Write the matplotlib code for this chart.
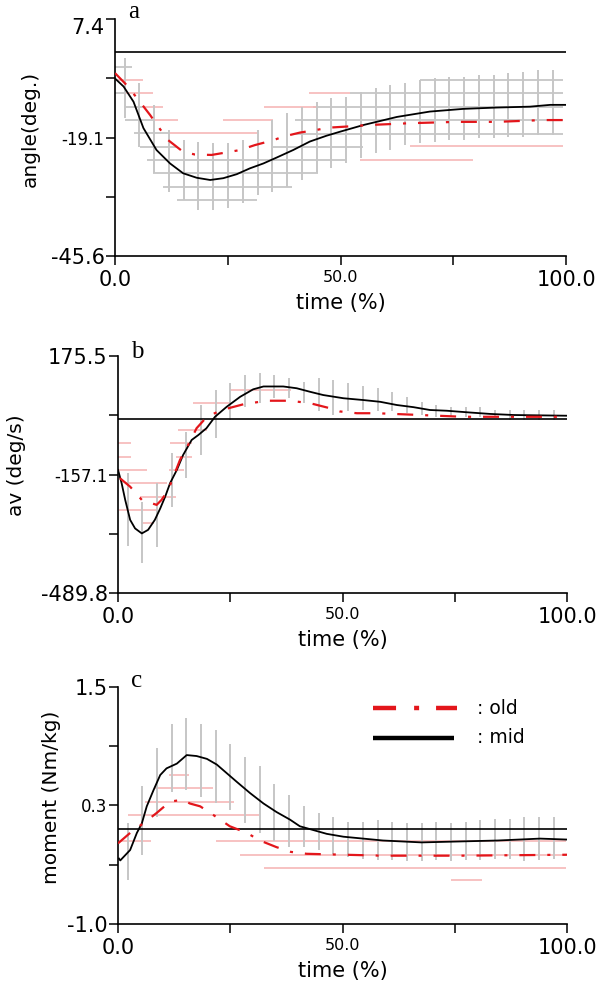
import matplotlib
matplotlib.use("Agg")
import matplotlib.pyplot as plt
from matplotlib.transforms import ScaledTranslation

plt.rcParams['font.family'] = ['DejaVu Sans']
plt.rcParams['lines.scale_dashes'] = False

RED = '#e3161b'
GREY = '#c6c6c6'
PINK = '#f6b8b8'
DASH = [11.5, 8.6, 2.2, 8.6]

# time (%) of the SD bars of the mid group
bar_x = [2.2, 5.4, 8.7, 12.0, 15.2, 18.5, 21.8, 25.0, 28.3, 31.6,
         34.8, 38.1, 41.4, 44.7, 47.9, 51.2, 54.5, 57.8, 61.0, 64.3,
         67.6, 70.9, 74.1, 77.4, 80.7, 84.0, 87.2, 90.5, 93.8, 97.1]
x_ticks = [0, 25, 50, 75, 100]
x_ticklabels = ['0.0', '', '50.0', '', '100.0']

# ---------- a: angle ----------
a_mid_x = [0, 1.9, 4.1, 6.3, 9.2, 12.2, 15.1, 18.1, 21.1, 24.0, 27.0, 29.9, 32.9,
           35.8, 39.5, 43.2, 46.9, 49.9, 55.1, 62.5, 69.8, 77.2, 84.6, 92.0, 96.5, 100]
a_mid_y = [-5.9, -7.7, -11.1, -17.0, -21.9, -24.9, -27.1, -28.1, -28.6, -28.2, -27.3, -26.0, -24.9,
           -23.6, -21.9, -20.0, -18.7, -17.8, -16.3, -14.5, -13.3, -12.7, -12.4, -12.2, -11.8, -11.8]
a_old_x = [0, 2.6, 5.2, 7.8, 9.6, 11.8, 15.1, 17.7, 21.4, 25.5, 27.7, 31.0, 35.1,
           37.3, 41.0, 44.7, 47.3, 50.6, 56.5, 65.4, 75.8, 84.6, 95.0, 100]
a_old_y = [-4.7, -7.4, -10.7, -14.1, -16.7, -19.7, -22.3, -22.9, -23.0, -22.3, -21.9, -20.8, -19.7,
           -18.9, -18.0, -17.4, -16.9, -16.7, -16.3, -15.9, -15.6, -15.6, -15.2, -15.2]
a_bar_hi = [-1.4, -7.0, -11.8, -17.4, -19.7, -20.0, -20.4, -20.4, -19.7, -17.4,
            -15.2, -13.7, -12.2, -11.1, -10.3, -10.0, -8.9, -8.1, -7.4, -7.0,
            -6.2, -5.9, -5.5, -5.5, -5.1, -5.1, -4.7, -4.4, -4.0, -4.0]
a_bar_lo = [-14.8, -21.2, -27.1, -31.2, -33.1, -35.3, -35.3, -34.9, -33.8, -32.0,
            -31.2, -30.1, -28.6, -27.1, -26.0, -24.9, -23.7, -22.6, -21.9, -20.8,
            -20.4, -20.0, -19.7, -19.7, -19.3, -19.3, -18.9, -18.9, -18.5, -18.5]
# horizontal SD steps: (value, from %, to %)
a_grey = [(-3.3, 0, 3.7), (-9.2, 0, 2.2), (-12.2, 2.2, 6.5), (-15.2, 2.2, 8.5),
          (-18.2, 4.1, 11.8), (-21.2, 5.5, 13.7), (-24.1, 7.0, 51.4), (-27.1, 8.5, 45.1),
          (-30.1, 10.7, 39.2), (-33.1, 13.7, 31.4), (-6.2, 67.6, 99.3), (-9.2, 52, 99.3),
          (-12.2, 44, 99.3), (-15.2, 40, 99.3), (-18.3, 40, 99.3), (-21.2, 35, 55)]
a_pink = [(-6.2, 0.4, 6.3), (-9.2, 2.2, 8.5), (-9.2, 43, 52), (-12.2, 6.3, 10.7),
          (-12.2, 33, 45), (-15.2, 8.5, 14), (-15.2, 24, 35), (-18.2, 11.8, 31.4),
          (-21.1, 65.4, 99.3), (-24.1, 54.3, 79.4)]
a_yticks = [7.4, -5.85, -19.1, -32.35, -45.6]
a_yticklabels = ['7.4', '', '-19.1', '', '-45.6']

# ---------- b: angular velocity ----------
b_mid_x = [0, 0.8, 1.6, 2.7, 3.8, 5.3, 6.7, 8.2, 9.4, 10.5, 11.6, 13.1, 14.5, 16.4, 17.9,
           19.7, 21.6, 24.2, 27.2, 30.1, 32.4, 36.8, 39.8, 42.8, 45.7, 50.2, 54.6, 58.4,
           62.1, 65.8, 69.5, 73.2, 78.4, 82.9, 88.1, 100]
b_mid_y = [-144, -181, -228, -284, -308, -322, -312, -284, -252, -219, -181, -144, -102, -60, -46,
           -27, 5, 33, 61, 82, 90, 90, 85, 75, 66, 57, 52, 47,
           38, 32, 24, 22, 17, 13, 10, 8]
b_old_x = [0.4, 2.7, 5.3, 8.6, 9.7, 11.2, 13.8, 16.0, 17.5, 19.8, 23.1, 27.9, 33.1, 38.3,
           42.8, 47.2, 49.4, 53.2, 57.6, 67.3, 76.9, 85.8, 100]
b_old_y = [-167, -191, -228, -242, -228, -200, -116, -65, -27, 5, 24, 40, 50, 50,
           43, 29, 20, 15, 15, 10, 5, 5, 5]
b_bar_hi = [-153, -233, -181, -97, -37, 38, 80, 99, 122, 127, 122, 113, 103, 113, 108,
            99, 90, 85, 75, 61, 47, 38, 33, 33, 32, 24, 24, 24, 24, 24]
b_bar_lo = [-356, -406, -359, -247, -167, -102, -55, -4, 33, 43, 57, 57, 43, 20, 10,
            20, 24, 20, 20, 15, 10, 5, 5, 5, 5, 5, -4, -4, -4, -4]
b_grey = []
b_pink = [(-69, 0, 3), (-69, 11.6, 16.4), (-107, 0, 3), (-107, 13, 16.4), (-144, 0.2, 6.5),
          (-144, 11.3, 14.6), (-181, 1.5, 11), (-219, 5, 12.9), (-256, 0.2, 8.7),
          (-294, 5.2, 8.0), (-32, 13.4, 19.8), (43, 16.7, 24.9), (80, 24.9, 38.5)]
b_yticks = [175.5, 9.2, -157.1, -323.4, -489.8]
b_yticklabels = ['175.5', '', '-157.1', '', '-489.8']

# ---------- c: moment ----------
c_mid_x = [0.2, 0.5, 2.7, 4.2, 5.3, 6.4, 7.9, 9.4, 10.8, 13.1, 15.3, 17.5, 19.8, 22.0,
           24.2, 26.4, 29.4, 32.4, 35.3, 38.3, 40.5, 43.5, 46.5, 50.2, 59.0, 67.6,
           76.1, 84.6, 94.0, 100]
c_mid_y = [-0.31, -0.33, -0.22, -0.04, 0.06, 0.24, 0.41, 0.57, 0.64, 0.69, 0.78, 0.77, 0.74, 0.68,
           0.59, 0.50, 0.38, 0.27, 0.18, 0.10, 0.03, -0.01, -0.05, -0.08, -0.12, -0.14,
           -0.13, -0.12, -0.10, -0.11]
c_old_x = [0, 2.7, 5.6, 8.6, 11.6, 14.5, 16.0, 18.3, 21.2, 24.9, 28.7, 31.6, 35.3,
           38.5, 42.0, 50.5, 59.0, 76.0, 100]
c_old_y = [-0.15, -0.04, 0.06, 0.17, 0.29, 0.31, 0.27, 0.24, 0.15, 0.03, -0.04, -0.12, -0.19,
           -0.24, -0.26, -0.27, -0.28, -0.28, -0.27]
c_bar_hi = [0.06, 0.45, 0.85, 1.11, 1.17, 1.11, 1.04, 0.90, 0.76, 0.66, 0.48, 0.36, 0.24, 0.17, 0.13,
            0.08, 0.08, 0.10, 0.08, 0.06, 0.06, 0.08, 0.06, 0.08, 0.10, 0.11, 0.11, 0.13, 0.13, 0.13]
c_bar_lo = [-0.54, -0.27, 0.13, 0.39, 0.41, 0.34, 0.27, 0.20, 0.06, -0.04, -0.12, -0.19, -0.19, -0.22, -0.26,
            -0.29, -0.31, -0.33, -0.33, -0.34, -0.34, -0.33, -0.34, -0.33, -0.33, -0.31, -0.31, -0.34, -0.33, -0.31]
c_grey = []
c_pink = [(0.57, 11.3, 15.9), (0.43, 8.2, 21.1), (0.29, 6.1, 25.8), (0.15, 2.3, 31.3),
          (-0.13, 0.2, 7.4), (-0.13, 21.9, 99.8), (-0.27, 27.1, 99.8), (-0.41, 32.6, 99.8),
          (-0.54, 74.2, 81.1)]
c_yticks = [1.5, 0.875, 0.25, -0.375, -1.0]
c_yticklabels = ['1.5', '', '0.3', '', '-1.0']

legend_labels = [': old', ': mid']

fig = plt.figure(figsize=(6.0, 9.85), dpi=100)


def draw_panel(rect, letter, ylabel, ylab_xy, letter_y,
               mid_x, mid_y, old_x, old_y, hi, lo, grey, pink,
               yticks, yticklabels):
    ax = fig.add_axes(rect)
    ax.set_xlim(0, 100)
    ax.set_ylim(yticks[-1], yticks[0])

    # SD envelopes
    if grey:
        ys, x0s, x1s = zip(*grey)
        ax.hlines(ys, x0s, x1s, color=GREY, lw=1.3, zorder=1)
    ys, x0s, x1s = zip(*pink)
    ax.hlines(ys, x0s, x1s, color=PINK, lw=1.2, zorder=1)
    ax.vlines(bar_x, lo, hi, color=GREY, lw=1.4, zorder=1)

    ax.axhline(0, color='black', lw=1.2, zorder=2)
    ax.plot(mid_x, mid_y, color='black', lw=1.3, zorder=3)
    ax.plot(old_x, old_y, color=RED, lw=1.6, dashes=DASH, zorder=4)

    for s in ['top', 'right']:
        ax.spines[s].set_visible(False)
    for s in ['left', 'bottom']:
        ax.spines[s].set_linewidth(1.2)

    ax.set_xticks(x_ticks)
    ax.set_xticklabels(x_ticklabels)
    ax.set_yticks(yticks)
    ax.set_yticklabels(yticklabels)
    ax.tick_params(axis='x', length=6.5, width=1.1, pad=3.5)
    ax.tick_params(axis='y', length=6.5, width=1.1, pad=1)
    for lab in ax.get_xticklabels():
        lab.set_fontsize(11.5 if lab.get_text() == '50.0' else 15)
    for i, lab in enumerate(ax.get_yticklabels()):
        lab.set_fontsize(12 if i == 2 else 15)

    ax.text(0.5, -0.198, 'time (%)', transform=ax.transAxes, fontsize=15,
            ha='center', va='center')
    ax.text(ylab_xy[0], ylab_xy[1], ylabel, transform=ax.transAxes, fontsize=14.5,
            rotation=90, ha='center', va='center')
    ax.text(0.03, letter_y, letter, transform=ax.transAxes, fontsize=18,
            family='Liberation Serif', ha='left', va='baseline')
    return ax


ax_a = draw_panel([0.1917, 0.7401, 0.7517, 0.2406], 'a', 'angle(deg.)', (-0.187, 0.536), 1.003,
                  a_mid_x, a_mid_y, a_old_x, a_old_y, a_bar_hi, a_bar_lo, a_grey, a_pink,
                  a_yticks, a_yticklabels)
# top label sits a little lower, as in the original
top = ax_a.get_yticklabels()[0]
top.set_transform(top.get_transform() + ScaledTranslation(0, -5 / 72, fig.dpi_scale_trans))

draw_panel([0.1967, 0.3977, 0.7483, 0.2409], 'b', 'av (deg/s)', (-0.226, 0.541), 0.99,
           b_mid_x, b_mid_y, b_old_x, b_old_y, b_bar_hi, b_bar_lo, b_grey, b_pink,
           b_yticks, b_yticklabels)

ax_c = draw_panel([0.1967, 0.0619, 0.7483, 0.2409], 'c', 'moment (Nm/kg)', (-0.148, 0.533), 1.0,
                  c_mid_x, c_mid_y, c_old_x, c_old_y, c_bar_hi, c_bar_lo, c_grey, c_pink,
                  c_yticks, c_yticklabels)

# legend
ax_c.plot([0.568, 0.755], [0.91, 0.91], transform=ax_c.transAxes, color=RED, lw=3.2,
          dashes=[16.6, 13, 3.6, 12.2], clip_on=False)
ax_c.plot([0.568, 0.748], [0.785, 0.785], transform=ax_c.transAxes, color='black', lw=3.2,
          clip_on=False, solid_capstyle='butt')
ax_c.text(0.80, 0.91, legend_labels[0], transform=ax_c.transAxes, fontsize=13.5, va='center')
ax_c.text(0.80, 0.785, legend_labels[1], transform=ax_c.transAxes, fontsize=13.5, va='center')

plt.savefig("out.png", dpi=100)
plt.close()
